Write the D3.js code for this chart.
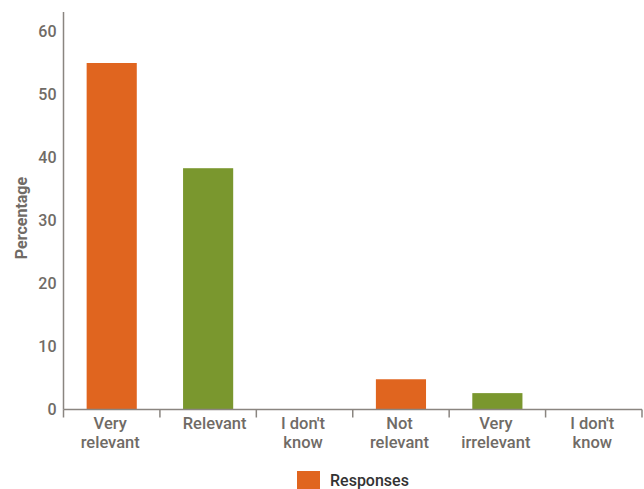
<!DOCTYPE html>
<html>
<head>
<meta charset="utf-8">
<script src="https://cdn.jsdelivr.net/npm/d3@7"></script>
<style>
  html, body { margin: 0; padding: 0; background: #fff; }
  svg { display: block; font-family: Roboto, "Noto Sans", sans-serif; }
</style>
</head>
<body>
<svg id="chart" width="644" height="489"></svg>
<script>
const categories = [["Very", "relevant"], ["Relevant"], ["I don't", "know"], ["Not", "relevant"], ["Very", "irrelevant"], ["I don't", "know"]];
const values = [55.0, 38.3, 0, 4.8, 2.6, 0];
const barColors = ["#E0651F", "#7A972E", "#E0651F", "#E0651F", "#7A972E", "#E0651F"];
const yTicks = [0, 10, 20, 30, 40, 50, 60];
const seriesName = "Responses";
const yTitle = "Percentage";

const svg = d3.select("#chart");
const plotLeft = 63.5, plotRight = 642, plotTop = 12, zeroY = 409.5;
const axisColor = "#8a8580";
const textColor = "#706b66";

const x = d3.scaleBand().domain(d3.range(categories.length)).range([plotLeft, plotRight])
  .paddingInner(0.48).paddingOuter(0.24);
const y = d3.scaleLinear().domain([0, 60]).range([zeroY, 31.5]);

// bars
svg.append("g").selectAll("rect").data(values).join("rect")
  .attr("x", (d, i) => x(i))
  .attr("width", x.bandwidth())
  .attr("y", d => y(d))
  .attr("height", d => zeroY - y(d))
  .attr("fill", (d, i) => barColors[i]);

// y axis
const yAxis = svg.append("g").attr("transform", `translate(${plotLeft},0)`)
  .call(d3.axisLeft(y).tickValues(yTicks).tickSize(0).tickPadding(7));
yAxis.select(".domain").remove();
yAxis.selectAll("text").attr("fill", textColor).attr("font-size", 16).attr("font-weight", 500)
  .attr("font-family", "Roboto, sans-serif");
svg.append("line").attr("x1", plotLeft).attr("x2", plotLeft).attr("y1", plotTop).attr("y2", zeroY)
  .attr("stroke", axisColor).attr("stroke-width", 1.5);

// x axis
svg.append("line").attr("x1", plotLeft).attr("x2", plotRight).attr("y1", zeroY).attr("y2", zeroY)
  .attr("stroke", axisColor).attr("stroke-width", 1.5);
const step = x.step();
const tickXs = d3.range(categories.length + 1).map(i => plotLeft + i * step);
svg.append("g").selectAll("line").data(tickXs).join("line")
  .attr("x1", d => d).attr("x2", d => d)
  .attr("y1", zeroY).attr("y2", zeroY + 8)
  .attr("stroke", axisColor).attr("stroke-width", 1.5);

const labels = svg.append("g").selectAll("text").data(categories).join("text")
  .attr("text-anchor", "middle")
  .attr("fill", textColor).attr("font-size", 16.5).attr("font-weight", 500)
  .attr("transform", (d, i) => `translate(${x(i) + x.bandwidth() / 2 + (d.length === 1 ? 6.5 : -1.5)},0)`);
labels.selectAll("tspan").data(d => d).join("tspan")
  .attr("x", 0)
  .attr("y", (d, j) => 429 + j * 18.5)
  .text(d => d);

// y title
svg.append("text")
  .attr("transform", `translate(27,218) rotate(-90)`)
  .attr("text-anchor", "middle")
  .attr("fill", textColor).attr("font-size", 16).attr("font-weight", 700)
  .text(yTitle);

// legend
svg.append("rect").attr("x", 297).attr("y", 471).attr("width", 23).attr("height", 19)
  .attr("fill", barColors[0]);
svg.append("text").attr("x", 330).attr("y", 486)
  .attr("fill", "#333").attr("font-size", 16).attr("font-weight", 500)
  .text(seriesName);
</script>
</body>
</html>
